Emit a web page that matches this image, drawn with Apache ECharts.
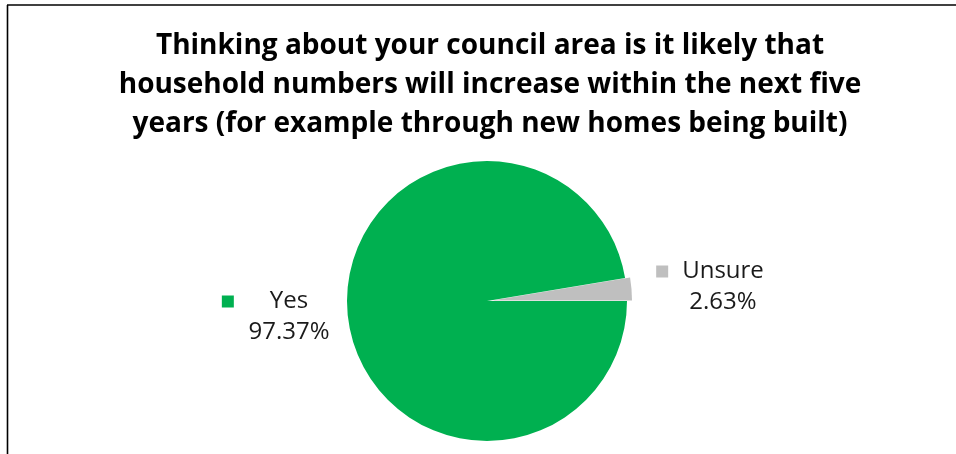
<!DOCTYPE html>
<html>
<head>
<meta charset="utf-8">
<script src="https://cdn.jsdelivr.net/npm/echarts@6/dist/echarts.min.js"></script>
<style>
  html, body { margin: 0; padding: 0; background: #ffffff; }
  #chart { width: 956px; height: 454px; }
</style>
</head>
<body>
<div id="chart"></div>
<script>
// Survey answers and their shares (percent)
const categories = ['Unsure', 'Yes'];
const shares = [2.63, 97.37];
const colors = ['#BFBFBF', '#00B050'];

const titleText = 'Thinking about your council area is it likely that\nhousehold numbers will increase within the next five\nyears (for example through new homes being built)';

const chart = echarts.init(document.getElementById('chart'), null, { renderer: 'canvas' });

// label anchor spots beside the pie, by category
const labelSpots = {
  Yes: { x: 289, y: 317, keyGap: 36 },
  Unsure: { x: 723, y: 287, keyGap: 14 }
};

const rich = {
  keyG: { width: 12, height: 12, backgroundColor: colors[1] },
  keyS: { width: 12, height: 12, backgroundColor: colors[0] },
  nm: { fontFamily: 'Open Sans', fontSize: 24, color: '#1a1a1a', lineHeight: 31 },
  val: { fontFamily: 'Open Sans', fontSize: 24, color: '#1a1a1a', lineHeight: 31, align: 'center' }
};
Object.values(labelSpots).forEach((s) => {
  rich['sp' + s.keyGap] = { width: s.keyGap };
  rich['pad' + (12 + s.keyGap)] = { width: 12 + s.keyGap };
});

const pieCenter = [487, 301];
const pieRadius = 140;
const startAngle = 360 * shares[0] / 100;

const option = {
  backgroundColor: '#ffffff',
  animation: false,
  title: {
    text: titleText,
    left: 485,
    textAlign: 'center',
    top: 22,
    textStyle: {
      fontFamily: 'Open Sans',
      fontWeight: 'bold',
      fontSize: 28,
      lineHeight: 39,
      color: '#000000'
    }
  },
  graphic: [
    { type: 'line', shape: { x1: 7, y1: 5, x2: 956, y2: 5 }, style: { stroke: '#000', lineWidth: 1.6 } },
    { type: 'line', shape: { x1: 7.5, y1: 5, x2: 7.5, y2: 454 }, style: { stroke: '#000', lineWidth: 1.6 } }
  ],
  series: [
    // the slices, with the small "Unsure" wedge pulled out
    {
      type: 'pie',
      center: pieCenter,
      radius: pieRadius,
      startAngle: startAngle,
      clockwise: true,
      selectedMode: 'single',
      selectedOffset: 5,
      data: categories.map((c, i) => ({
        name: c,
        value: shares[i],
        selected: c === 'Unsure',
        itemStyle: { color: colors[i] }
      })),
      label: { show: false },
      labelLine: { show: false },
      emphasis: { disabled: true }
    },
    // data labels with their colour keys, on an unfilled copy of the pie
    {
      type: 'pie',
      center: pieCenter,
      radius: pieRadius,
      startAngle: startAngle,
      clockwise: true,
      silent: true,
      avoidLabelOverlap: false,
      data: categories.map((c, i) => ({
        name: c,
        value: shares[i],
        itemStyle: { color: 'rgba(0,0,0,0)' }
      })),
      label: {
        show: true,
        position: 'outside',
        formatter: (p) => {
          const gap = labelSpots[p.name].keyGap;
          const key = p.name === 'Yes' ? 'keyG' : 'keyS';
          return '{' + key + '|}{sp' + gap + '|}{nm|' + p.name + '}{pad' + (12 + gap) + '|}\n{val|' + p.value.toFixed(2) + '%}';
        },
        rich: rich,
        align: 'center'
      },
      labelLine: { show: false },
      labelLayout: (params) => {
        const s = labelSpots[categories[params.dataIndex]];
        return { x: s.x, y: s.y, align: 'center', verticalAlign: 'middle' };
      },
      emphasis: { disabled: true }
    }
  ]
};

chart.setOption(option);
</script>
</body>
</html>
